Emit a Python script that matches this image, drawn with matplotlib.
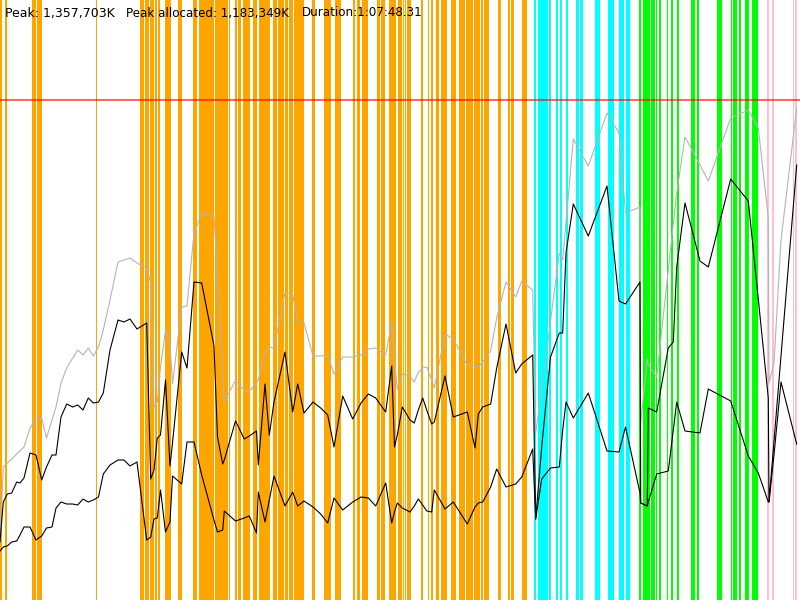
import matplotlib
matplotlib.use('Agg')
from matplotlib import pyplot as plt

# sample times (in chart time units, 0..800 = whole run)
times = [0, 3.3, 7.3, 11.7, 16.7, 20, 24, 30, 36, 41.7, 46.5, 52, 56, 61, 66.7, 72.7, 77.7, 83, 88.3,
         93.3, 98.5, 103.3, 110, 118, 124, 130, 137, 146.7, 150.7, 154, 157.3, 160.5, 165.5, 170,
         172.5, 181.7, 187, 194, 201.7, 214, 217.5, 222.7, 224.3, 235.5, 244.3, 249.3, 256.5, 258.3,
         265, 269.3, 274, 285, 292.7, 297.7, 304, 313, 320.7, 327.7, 334, 342.7, 352.7, 361, 368.3,
         375.7, 385.7, 391.7, 394.5, 397.3, 402.3, 410, 414.3, 418.3, 422.7, 426.7, 431.7, 434.3, 445,
         453.3, 467.3, 475, 478.3, 482.7, 490.7, 496.7, 506, 515.7, 521.7, 532.7, 535.7, 541.7, 550.5,
         559.3, 562.7, 566, 573.3, 588.3, 607, 619, 625.5, 640, 640.7, 647.3, 648.3, 656.7, 668.3,
         673.3, 676.7, 685, 700, 708.3, 730.7, 748.3, 758.3, 768.3, 769, 774, 781, 796.7]

# peak memory (gray), committed (upper black), used (lower black)
peak_mem = [58, 133, 137, 141, 146, 149, 153, 172, 181, 182, 162, 180, 193, 217, 232, 242, 250, 245, 252,
            244, 253, 270, 300, 338, 340, 342, 337, 332, 317, 193, 198, 233, 270, 255,
            216, 293, 294, 367, 386, 384, 325, 228, 198, 220, 209, 209, 217, 220,
            247, 253, 252, 307, 306, 276, 277, 244, 244, 245, 226, 243, 243, 245, 251,
            252, 245, 278, 240, 211, 226, 224, 218, 228, 232, 233, 220, 212, 266,
            261, 235, 234, 233, 238, 249, 282, 318, 303, 319, 310, 167, 211, 279,
            347, 340, 378, 461, 434, 487, 467, 387, 393, 177, 241, 235, 223, 330,
            376, 407, 463, 435, 419, 482, 490, 472, 382, 217, 237, 360, 492]
committed_mem = [58, 98, 106, 107, 118, 117, 122, 147, 145, 120, 133, 145, 145, 183, 196, 193, 195, 190, 202,
                 197, 198, 207, 250, 280, 278, 281, 271, 277, 121, 130, 162, 165, 220, 134,
                 157, 248, 232, 318, 317, 254, 163, 136, 140, 179, 161, 164, 169, 135,
                 216, 165, 198, 248, 188, 216, 187, 198, 192, 185, 153, 204, 181, 197, 206,
                 202, 188, 234, 153, 165, 193, 180, 177, 190, 202, 190, 176, 178, 224,
                 183, 188, 152, 186, 193, 196, 232, 276, 227, 236, 245, 81, 153, 243,
                 267, 267, 347, 396, 364, 414, 299, 296, 318, 97, 94, 192, 188, 252,
                 258, 333, 397, 339, 333, 421, 399, 301, 202, 98, 159, 244, 435]
used_mem = [49, 53, 54, 58, 59, 65, 73, 73, 60, 64, 72, 73, 92, 98, 96, 96, 95, 101, 98,
            100, 103, 126, 135, 140, 140, 134, 138, 60, 63, 81, 82, 110, 68, 78,
            124, 116, 158, 158, 125, 80, 68, 70, 89, 79, 82, 84, 67, 108,
            78, 100, 124, 94, 108, 94, 99, 93, 86, 77, 102, 90, 98, 103, 102,
            94, 117, 77, 88, 97, 92, 88, 94, 101, 95, 89, 88, 110, 91,
            98, 76, 93, 97, 98, 113, 131, 113, 116, 123, 151, 81, 121, 132,
            133, 170, 198, 182, 207, 149, 148, 173, 107, 97, 94, 98, 126, 129,
            170, 198, 169, 167, 211, 199, 144, 127, 98, 98, 145, 218, 156]

max_heap = 500

# GC / phase events (start, end)
orange_spans = [(0, 2), (5.3, 7), (32, 36.3), (36.8, 42), (96, 97), (140, 144), (145, 148.7), (150, 154),
                (155, 157.3), (157.7, 160), (165, 170.7), (178.3, 181.7), (193.3, 196.9), (199.3, 202.5),
                (203, 214), (215, 224.8), (225.2, 228.3), (229.3, 230.3), (235, 237.3), (238.3, 240.7),
                (242.7, 250), (252.7, 257.3), (259, 270), (273.3, 277), (277.5, 284), (285, 288.3),
                (289.3, 293.3), (294, 302.7), (303.3, 304), (311.7, 315), (324, 331), (335, 336.5),
                (337, 338.5), (339, 340.7), (353.3, 355), (356.7, 360), (362.3, 367.7), (376.7, 380),
                (380.5, 385), (389.3, 396), (398.3, 401.7), (402.7, 404), (405, 406), (407.3, 411),
                (420.7, 422.7), (427.7, 429.3), (431, 432.7), (435.7, 439.3), (440.7, 447.3), (451, 456),
                (459, 465), (465.5, 473.3), (474, 480), (481, 483.3), (484.3, 489.3), (498.3, 500.7),
                (508.3, 510), (511, 514), (521.7, 527)]
cyan_spans = [(534.3, 536), (537.7, 548.3), (549, 550.7), (556, 558.3), (560, 562.3), (565.7, 567.7),
              (576, 579), (580, 583.3), (595, 600), (607.7, 610.5), (611, 614), (619.3, 624), (626, 630)]
green_spans = [(639, 640.5), (643.3, 650), (650.7, 655), (655.7, 657.3), (659.3, 661), (666.7, 668.3),
               (671, 673.3), (676.7, 679.3), (690.7, 695), (696.7, 699), (716.7, 721.7), (730.7, 732),
               (732.5, 737.3), (738.7, 740.7), (745, 749.3), (752, 757.7)]
pink_spans = [(766.7, 769), (771.7, 774), (792.7, 794), (795, 796.7)]

fig = plt.figure(figsize=(8, 6), dpi=100)
ax = fig.add_axes([0, 0, 1, 1])

for spans, col in [(orange_spans, '#ffa500'), (cyan_spans, '#00ffff'),
                   (green_spans, '#00ff00'), (pink_spans, '#ffc0cb')]:
    for a, b in spans:
        ax.axvspan(a, b, color=col, lw=0)

ax.plot(times, peak_mem, color='#b4b4b4', lw=0.8)
ax.plot(times, committed_mem, color='black', lw=0.8)
ax.plot(times, used_mem, color='black', lw=0.8)
ax.axhline(max_heap, color='red', alpha=0.6, lw=1.5)

ax.set_xlim(0, 800)
ax.set_ylim(0, 600)
ax.axis('off')

ty = 1 - 13 / 600
fig.text(5 / 800, ty, 'Peak: 1,357,703K', fontsize=9, va='center')
fig.text(126 / 800, ty, 'Peak allocated: 1,183,349K', fontsize=8.6, va='center')
fig.text(302 / 800, ty, 'Duration:1:07:48.31', fontsize=8.6, va='center')

plt.savefig('out.png')
